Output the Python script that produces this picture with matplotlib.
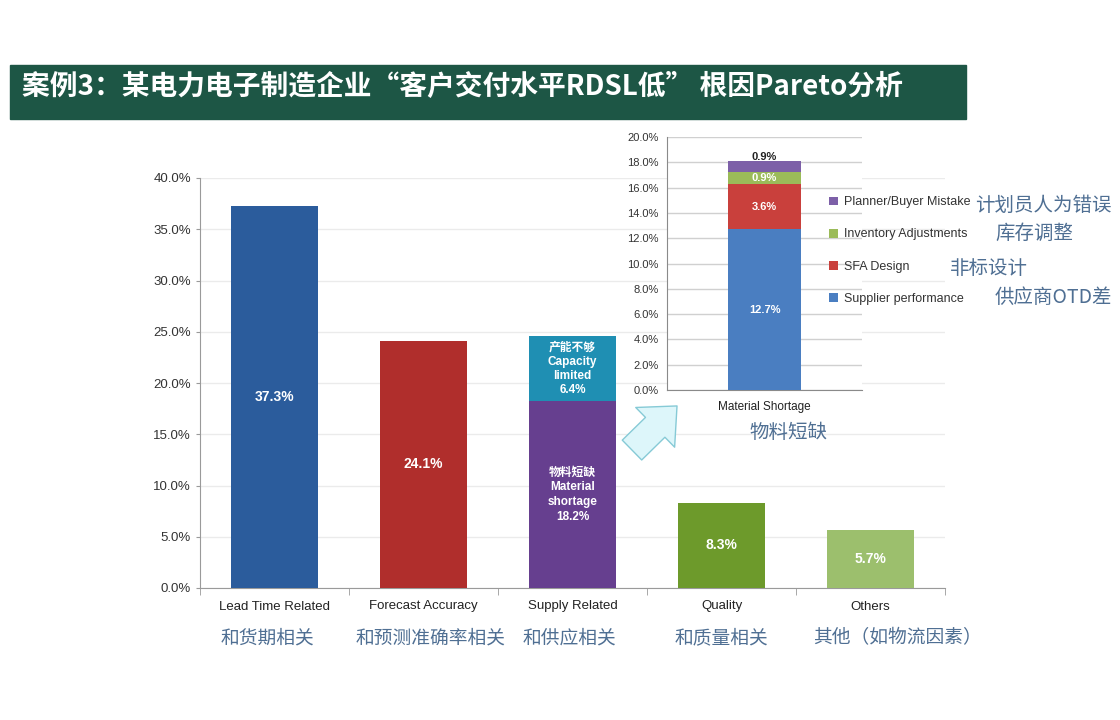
import numpy as np
import matplotlib.pyplot as plt
import matplotlib.patches as mpatches
from matplotlib.ticker import FuncFormatter, MultipleLocator

plt.rcParams['font.family'] = ['Liberation Sans', 'Noto Sans CJK SC', 'DejaVu Sans']
CJK = ['Noto Sans CJK SC', 'DejaVu Sans']

# main chart data
categories = ['Lead Time Related', 'Forecast Accuracy', 'Supply Related', 'Quality', 'Others']
categories_cn = ['和货期相关', '和预测准确率相关', '和供应相关', '和质量相关', '其他（如物流因素）']
values = [37.3, 24.1, 18.2, 8.3, 5.7]
capacity_limited = [0, 0, 6.4, 0, 0]
bar_colors = ['#2B5C9C', '#B02E2C', '#663F8F', '#6D9A2B', '#9CBF6D']

# inset: breakdown of material shortage
sub_category = ['Material Shortage']
sub_labels = ['Supplier performance', 'SFA Design', 'Inventory Adjustments', 'Planner/Buyer Mistake']
sub_values = [12.7, 3.6, 0.9, 0.9]
sub_colors = ['#4A7EC1', '#C9403C', '#9BBB59', '#7D60A8']
sub_cn = ['供应商OTD差', '非标设计', '库存调整', '计划员人为错误']

fig = plt.figure(figsize=(11.2, 7.2), dpi=100)
fig.patch.set_facecolor('white')

# title bar
fig.add_artist(mpatches.Rectangle((10 / 1120, 1 - 119 / 720), 956 / 1120, 54 / 720,
                                  transform=fig.transFigure, color='#1D5645', zorder=0))
fig.text(22 / 1120, 1 - 87 / 720, '案例3：某电力电子制造企业“客户交付水平RDSL低” 根因Pareto分析',
         color='white', fontsize=20, fontweight='bold', family=CJK, va='center', ha='left')

# main chart
ax = fig.add_axes([200 / 1120, 1 - 588 / 720, 745 / 1120, 410 / 720])
x = np.arange(len(categories))
ax.bar(x, values, width=0.58, color=bar_colors, zorder=3)
ax.bar(x, capacity_limited, bottom=values, width=0.58, color='#1F8FB3', zorder=3)
ax.set_xlim(-0.5, len(categories) - 0.5)
ax.set_ylim(0, 40)
ax.yaxis.set_major_locator(MultipleLocator(5))
ax.yaxis.set_major_formatter(FuncFormatter(lambda v, p: f'{v:.1f}%'))
ax.grid(axis='y', color='#EBEBEB', lw=1, zorder=0)
for s in ['top', 'right']:
    ax.spines[s].set_visible(False)
for s in ['left', 'bottom']:
    ax.spines[s].set_color('#9A9A9A')
ax.tick_params(axis='y', labelsize=9.5, colors='#333333', length=3, color='#9A9A9A')
ax.set_xticks(x)
ax.set_xticklabels(categories, fontsize=9.5, color='#222222')
ax.set_xticks(np.arange(-0.5, len(categories)), minor=True)
ax.tick_params(axis='x', which='major', length=0, pad=9)
ax.tick_params(axis='x', which='minor', length=5, color='#9A9A9A')

for i, v in enumerate(values):
    if capacity_limited[i] > 0:
        ax.text(i, v / 2, f'物料短缺\nMaterial\nshortage\n{v}%', color='white', ha='center',
                va='center', fontsize=8.5, fontweight='bold', family=['Liberation Sans', 'Noto Sans CJK SC'],
                linespacing=1.3, zorder=4)
        ax.text(i, v + capacity_limited[i] / 2, f'产能不够\nCapacity\nlimited\n{capacity_limited[i]}%',
                color='white', ha='center', va='center', fontsize=8.5, fontweight='bold',
                family=['Liberation Sans', 'Noto Sans CJK SC'], linespacing=1.25, zorder=4)
    else:
        ax.text(i, v / 2, f'{v}%', color='white', ha='center', va='center',
                fontsize=10, fontweight='bold', zorder=4)

cn_shift = [-0.05, 0.05, -0.02, 0, 0.18]
for i, t in enumerate(categories_cn):
    ax.text(i + cn_shift[i], -0.122, t, transform=ax.get_xaxis_transform(), ha='center', va='center',
            fontsize=13.5, color='#4F6F93', family=CJK)

# inset chart
ax2 = fig.add_axes([667 / 1120, 1 - 390 / 720, 195 / 1120, 253 / 720])
ax2.set_facecolor('white')
bottom = 0
for v, lab, c in zip(sub_values, sub_labels, sub_colors):
    ax2.bar([0], [v], bottom=bottom, width=0.37, color=c, label=lab, zorder=3)
    bottom += v
ax2.set_xlim(-0.5, 0.5)
ax2.set_ylim(0, 20)
ax2.yaxis.set_major_locator(MultipleLocator(2))
ax2.yaxis.set_major_formatter(FuncFormatter(lambda v, p: f'{v:.1f}%'))
ax2.grid(axis='y', color='#D0D0D0', lw=1, zorder=0)
for s in ['top', 'right']:
    ax2.spines[s].set_visible(False)
for s in ['left', 'bottom']:
    ax2.spines[s].set_color('#8A8A8A')
ax2.tick_params(axis='y', labelsize=8, colors='#333333', length=0, pad=6)
ax2.set_xticks([0])
ax2.set_xticklabels(sub_category, fontsize=8.5, color='#222222')
ax2.tick_params(axis='x', length=0, pad=8)

bottom = 0
for v, c in zip(sub_values, sub_colors):
    mid = bottom + v / 2
    if c == '#7D60A8':
        ax2.text(0, bottom + v + 0.3, f'{v}%', ha='center', va='center', fontsize=8,
                 fontweight='bold', color='#222222', zorder=4)
    else:
        ax2.text(0, mid, f'{v}%', ha='center', va='center', fontsize=8,
                 fontweight='bold', color='white', zorder=4)
    bottom += v

h, l = ax2.get_legend_handles_labels()
fig.legend(h[::-1], l[::-1], loc='upper left', bbox_to_anchor=(823 / 1120, 1 - 190 / 720),
           bbox_transform=fig.transFigure, frameon=False, fontsize=9, labelspacing=1.62,
           handlelength=0.7, handleheight=0.7, handletextpad=0.5, borderpad=0,
           labelcolor='#333333')

cn_pos = [(995, 297), (950, 268), (995, 233), (975, 205)]
for (px, py), t in zip(cn_pos, sub_cn):
    fig.text(px / 1120, 1 - py / 720, t, fontsize=14, color='#4F6F93', family=CJK,
             ha='left', va='center')
fig.text(788 / 1120, 1 - 433 / 720, '物料短缺', fontsize=14, color='#4F6F93', family=CJK,
         ha='center', va='center')

# arrow from supply bar to inset
arrow = mpatches.FancyArrowPatch((630 / 1120, 1 - 452 / 720), (679 / 1120, 1 - 404 / 720),
                                 transform=fig.transFigure,
                                 arrowstyle=mpatches.ArrowStyle.Simple(head_length=0.55, head_width=1.0,
                                                                       tail_width=0.5),
                                 mutation_scale=40, facecolor='#DDF6FA', edgecolor='#86CAD6', lw=1)
fig.add_artist(arrow)

fig.savefig('out.png', dpi=100)
